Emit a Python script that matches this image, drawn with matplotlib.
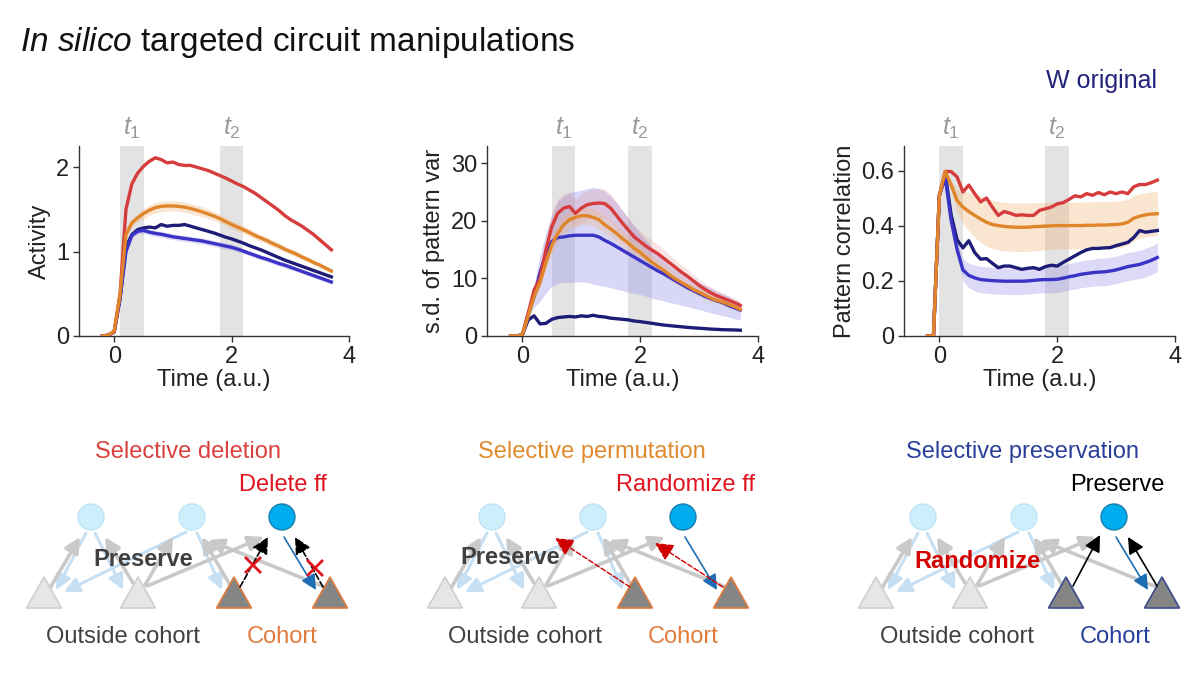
import numpy as np
import matplotlib.pyplot as plt
from matplotlib.patches import Circle, Polygon
from matplotlib.transforms import blended_transform_factory

plt.rcParams['font.family'] = ['Liberation Sans', 'DejaVu Sans']
plt.rcParams['mathtext.fontset'] = 'custom'
plt.rcParams['mathtext.it'] = 'Liberation Sans:italic'
plt.rcParams['mathtext.rm'] = 'Liberation Sans'

# ---- data ----
time = [-0.2, -0.1, 0.0, 0.1, 0.2, 0.3, 0.4, 0.5, 0.6, 0.7,
        0.8, 0.9, 1.0, 1.1, 1.2, 1.3, 1.4, 1.5, 1.6, 1.7,
        1.8, 1.9, 2.0, 2.1, 2.2, 2.3, 2.4, 2.5, 2.6, 2.7,
        2.8, 2.9, 3.0, 3.1, 3.2, 3.3, 3.4, 3.5, 3.6, 3.7]

# activity
act_red = [0, 0.01, 0.05, 0.50, 1.50, 1.80, 1.93, 2.01, 2.07, 2.11,
           2.09, 2.05, 2.06, 2.03, 2.02, 2.02, 2.00, 1.98, 1.96, 1.93,
           1.90, 1.87, 1.835, 1.80, 1.77, 1.73, 1.69, 1.64, 1.59, 1.54,
           1.49, 1.43, 1.38, 1.34, 1.30, 1.25, 1.20, 1.14, 1.08, 1.02]
act_orange = [0, 0.01, 0.06, 0.50, 1.20, 1.34, 1.40, 1.45, 1.49, 1.52,
              1.535, 1.54, 1.54, 1.535, 1.525, 1.51, 1.49, 1.47, 1.445, 1.42,
              1.39, 1.355, 1.32, 1.29, 1.26, 1.225, 1.19, 1.16, 1.13, 1.095,
              1.065, 1.03, 1.00, 0.97, 0.935, 0.905, 0.87, 0.84, 0.805, 0.77]
act_navy = [0, 0.01, 0.05, 0.45, 1.05, 1.20, 1.26, 1.28, 1.29, 1.28,
            1.32, 1.30, 1.31, 1.31, 1.32, 1.30, 1.28, 1.26, 1.24, 1.22,
            1.195, 1.17, 1.15, 1.125, 1.10, 1.07, 1.045, 1.02, 0.99, 0.96,
            0.93, 0.90, 0.875, 0.85, 0.825, 0.80, 0.775, 0.75, 0.725, 0.70]
act_blue = [0, 0.01, 0.05, 0.45, 1.00, 1.19, 1.24, 1.25, 1.23, 1.215,
            1.205, 1.19, 1.175, 1.165, 1.155, 1.145, 1.135, 1.125, 1.11, 1.095,
            1.08, 1.065, 1.05, 1.03, 1.005, 0.98, 0.955, 0.93, 0.91, 0.885,
            0.86, 0.84, 0.815, 0.79, 0.765, 0.74, 0.715, 0.69, 0.665, 0.64]
act_orange_err = [0, 0, 0, 0.02, 0.03, 0.04, 0.05, 0.06, 0.06, 0.06,
                  0.06, 0.06, 0.06, 0.06, 0.06, 0.06, 0.06, 0.06, 0.055, 0.055,
                  0.05, 0.05, 0.05, 0.05, 0.045, 0.045, 0.045, 0.04, 0.04, 0.04,
                  0.04, 0.035, 0.035, 0.035, 0.035, 0.03, 0.03, 0.03, 0.03, 0.03]
act_blue_err = [0, 0, 0, 0.02, 0.03, 0.03, 0.03, 0.035, 0.035, 0.035,
                0.035, 0.035, 0.035, 0.035, 0.035, 0.035, 0.035, 0.035, 0.035, 0.035,
                0.035, 0.035, 0.035, 0.035, 0.03, 0.03, 0.03, 0.03, 0.03, 0.03,
                0.03, 0.03, 0.03, 0.025, 0.025, 0.025, 0.025, 0.025, 0.025, 0.025]

# s.d. of pattern var
sd_red = [0, 0, 0.2, 4.0, 8.0, 10.0, 15.0, 19.0, 21.3, 22.2,
          22.5, 21.3, 22.2, 22.8, 23.0, 23.1, 23.0, 22.2, 20.9, 19.6,
          18.4, 17.2, 16.4, 15.6, 14.9, 14.3, 13.5, 12.7, 11.9, 11.1,
          10.4, 9.6, 8.8, 8.1, 7.5, 7.0, 6.6, 6.2, 5.8, 5.3]
sd_orange = [0, 0, 0.2, 3.5, 6.9, 9.3, 12.8, 15.8, 17.8, 19.3,
             20.2, 20.6, 20.9, 20.9, 20.6, 20.2, 19.3, 18.6, 17.8, 16.9,
             16.1, 15.2, 14.5, 13.6, 12.8, 12.1, 11.4, 10.6, 9.9, 9.3,
             8.7, 8.1, 7.6, 7.1, 6.6, 6.2, 5.9, 5.5, 5.1, 4.6]
sd_navy = [0, 0, 0.2, 2.8, 3.5, 2.1, 2.2, 2.9, 3.2, 3.3,
           3.4, 3.3, 3.5, 3.4, 3.6, 3.4, 3.3, 3.1, 3.0, 2.9,
           2.8, 2.6, 2.5, 2.35, 2.2, 2.05, 1.9, 1.8, 1.7, 1.6,
           1.5, 1.42, 1.35, 1.28, 1.2, 1.15, 1.1, 1.07, 1.05, 1.0]
sd_blue = [0, 0, 0.2, 3.8, 6.9, 11.0, 14.3, 16.4, 17.1, 17.2,
           17.4, 17.5, 17.5, 17.5, 17.5, 17.2, 16.6, 16.1, 15.5, 14.9,
           14.3, 13.7, 13.1, 12.5, 11.9, 11.3, 10.8, 10.2, 9.6, 9.0,
           8.4, 7.9, 7.4, 6.9, 6.5, 6.1, 5.8, 5.3, 4.9, 4.5]
sd_red_err = [0, 0, 0, 0.5, 1.0, 1.5, 2.0, 2.5, 2.5, 2.5,
              2.5, 2.5, 2.5, 2.5, 2.5, 2.5, 2.5, 2.4, 2.3, 2.2,
              2.1, 2.0, 1.9, 1.8, 1.7, 1.6, 1.5, 1.4, 1.3, 1.2,
              1.2, 1.1, 1.1, 1.0, 1.0, 0.9, 0.9, 0.8, 0.8, 0.8]
sd_orange_err = [0, 0, 0, 0.3, 0.6, 0.9, 1.2, 1.5, 1.5, 1.5,
                 1.5, 1.5, 1.5, 1.5, 1.5, 1.5, 1.5, 1.4, 1.4, 1.3,
                 1.3, 1.2, 1.2, 1.1, 1.1, 1.0, 1.0, 0.9, 0.9, 0.8,
                 0.8, 0.8, 0.7, 0.7, 0.7, 0.6, 0.6, 0.6, 0.5, 0.5]
sd_blue_lo = [0, 0, 0.2, 3.0, 5.0, 6.0, 7.5, 8.7, 9.1, 9.3,
              9.3, 9.4, 9.4, 9.3, 9.0, 8.8, 8.6, 8.4, 8.1, 7.9,
              7.6, 7.4, 7.2, 6.9, 6.6, 6.3, 6.1, 5.8, 5.6, 5.3,
              5.1, 4.8, 4.6, 4.3, 4.0, 3.8, 3.5, 3.3, 3.0, 2.8]
sd_blue_hi = [0, 0, 0.2, 4.5, 9.0, 14.0, 18.0, 21.0, 23.4, 24.3,
              24.9, 25.1, 25.3, 25.6, 25.8, 25.6, 25.2, 24.3, 23.1, 21.8,
              20.5, 19.1, 17.8, 16.6, 15.5, 14.3, 13.2, 12.2, 11.5, 10.8,
              10.1, 9.7, 9.3, 8.8, 8.3, 7.8, 7.4, 6.9, 6.3, 5.8]

# pattern correlation
cor_red = [0, 0, 0.51, 0.598, 0.597, 0.578, 0.523, 0.548, 0.517, 0.487,
           0.501, 0.468, 0.438, 0.452, 0.446, 0.438, 0.440, 0.438, 0.438, 0.456,
           0.462, 0.468, 0.480, 0.484, 0.496, 0.509, 0.505, 0.517, 0.511, 0.521,
           0.513, 0.523, 0.517, 0.523, 0.517, 0.542, 0.550, 0.550, 0.557, 0.566]
cor_orange = [0, 0, 0.51, 0.598, 0.548, 0.493, 0.468, 0.452, 0.438, 0.425,
              0.413, 0.405, 0.401, 0.398, 0.396, 0.395, 0.395, 0.395, 0.397, 0.398,
              0.399, 0.400, 0.401, 0.401, 0.401, 0.401, 0.401, 0.402, 0.402, 0.403,
              0.403, 0.404, 0.405, 0.407, 0.413, 0.428, 0.435, 0.440, 0.443, 0.444]
cor_navy = [0, 0, 0.51, 0.59, 0.44, 0.35, 0.32, 0.346, 0.303, 0.279,
            0.281, 0.264, 0.248, 0.254, 0.254, 0.248, 0.242, 0.246, 0.248, 0.242,
            0.252, 0.257, 0.254, 0.267, 0.279, 0.291, 0.303, 0.313, 0.318, 0.318,
            0.320, 0.321, 0.328, 0.334, 0.340, 0.358, 0.383, 0.377, 0.380, 0.383]
cor_blue = [0, 0, 0.51, 0.575, 0.42, 0.315, 0.24, 0.22, 0.211, 0.205,
            0.203, 0.201, 0.200, 0.199, 0.199, 0.199, 0.199, 0.200, 0.202, 0.204,
            0.205, 0.205, 0.206, 0.210, 0.215, 0.219, 0.224, 0.227, 0.230, 0.232,
            0.233, 0.236, 0.240, 0.246, 0.252, 0.256, 0.260, 0.267, 0.275, 0.285]
cor_orange_err = [0, 0, 0, 0.005, 0.02, 0.04, 0.06, 0.07, 0.08, 0.085,
                  0.087, 0.088, 0.088, 0.088, 0.088, 0.088, 0.088, 0.088, 0.087, 0.087,
                  0.086, 0.086, 0.085, 0.085, 0.085, 0.085, 0.085, 0.085, 0.085, 0.085,
                  0.085, 0.085, 0.085, 0.085, 0.083, 0.082, 0.081, 0.080, 0.080, 0.080]
cor_blue_err = [0, 0, 0, 0.005, 0.02, 0.03, 0.04, 0.045, 0.047, 0.048,
                0.048, 0.048, 0.048, 0.048, 0.048, 0.048, 0.048, 0.048, 0.048, 0.048,
                0.048, 0.048, 0.048, 0.048, 0.048, 0.049, 0.049, 0.049, 0.049, 0.050,
                0.050, 0.050, 0.050, 0.050, 0.051, 0.051, 0.051, 0.052, 0.052, 0.052]

# ---- style ----
RED = '#d63c3c'
ORANGE = '#e0852b'
NAVY = '#1d1d78'
BLUE = '#3a33c6'
AXC = '#333333'
LBL = 17

t = np.array(time)

fig = plt.figure(figsize=(12, 6.75), dpi=100)


def band(ax, lo, hi, color, alpha):
    ax.fill_between(t, lo, hi, color=color, alpha=alpha, lw=0, zorder=1)


def style(ax, ylim, yticks, yticklabels, ylabel, t1, t2):
    ax.set_xlim(-0.6, 4)
    ax.set_ylim(*ylim)
    ax.set_xticks([0, 2, 4])
    ax.set_yticks(yticks)
    ax.set_yticklabels(yticklabels)
    for s in ['top', 'right']:
        ax.spines[s].set_visible(False)
    for s in ['left', 'bottom']:
        ax.spines[s].set_color(AXC)
        ax.spines[s].set_linewidth(1.0)
    ax.tick_params(colors=AXC, labelcolor='#222222', labelsize=LBL, length=4, width=1, pad=3)
    ax.set_xlabel('Time (a.u.)', fontsize=LBL, color='#222222', labelpad=1)
    ax.set_ylabel(ylabel, fontsize=LBL, color='#222222', labelpad=4)
    trans = blended_transform_factory(ax.transData, ax.transAxes)
    for (a, b), lab in [(t1, r'$\mathit{t_{1}}$'), (t2, r'$\mathit{t_{2}}$')]:
        ax.axvspan(a, b, color='#e3e3e3', lw=0, zorder=0)
        ax.text((a + b) / 2, 1.09, lab, transform=trans, ha='center', va='center',
                color='#9a9a9a', fontsize=18, clip_on=False)


lw = 2.4
bottom = 1 - 336 / 675
height = 190 / 675

# activity
ax1 = fig.add_axes([79 / 1200, bottom, 270 / 1200, height])
a_o, a_oe = np.array(act_orange), np.array(act_orange_err)
a_b, a_be = np.array(act_blue), np.array(act_blue_err)
band(ax1, a_o - a_oe, a_o + a_oe, '#f0b57a', 0.35)
band(ax1, a_b - a_be, a_b + a_be, '#8c86e6', 0.3)
ax1.plot(t, act_navy, color=NAVY, lw=lw, zorder=3)
ax1.plot(t, act_blue, color=BLUE, lw=lw, zorder=3)
ax1.plot(t, act_red, color=RED, lw=lw, zorder=3)
ax1.plot(t, act_orange, color=ORANGE, lw=lw, zorder=4)
style(ax1, (0, 2.25), [0, 1, 2], ['0', '1', '2'], 'Activity', (0.1, 0.5), (1.8, 2.2))

# s.d. of pattern var
ax2 = fig.add_axes([487 / 1200, bottom, 271 / 1200, height])
s_r, s_re = np.array(sd_red), np.array(sd_red_err)
s_o, s_oe = np.array(sd_orange), np.array(sd_orange_err)
band(ax2, sd_blue_lo, sd_blue_hi, '#9b96ea', 0.38)
band(ax2, s_r - s_re, s_r + s_re, '#e07a7a', 0.2)
band(ax2, s_o - s_oe, s_o + s_oe, '#f0b57a', 0.3)
ax2.plot(t, sd_navy, color=NAVY, lw=lw, zorder=3)
ax2.plot(t, sd_blue, color=BLUE, lw=lw, zorder=3)
ax2.plot(t, sd_red, color=RED, lw=lw, zorder=3)
ax2.plot(t, sd_orange, color=ORANGE, lw=lw, zorder=4)
style(ax2, (0, 33), [0, 10, 20, 30], ['0', '10', '20', '30'], 's.d. of pattern var',
      (0.5, 0.9), (1.8, 2.2))

# pattern correlation
ax3 = fig.add_axes([904 / 1200, bottom, 271 / 1200, height])
c_o, c_oe = np.array(cor_orange), np.array(cor_orange_err)
c_b, c_be = np.array(cor_blue), np.array(cor_blue_err)
band(ax3, c_o - c_oe, c_o + c_oe, '#f0b57a', 0.35)
band(ax3, c_b - c_be, c_b + c_be, '#8c86e6', 0.3)
ax3.plot(t, cor_navy, color=NAVY, lw=lw, zorder=3)
ax3.plot(t, cor_blue, color=BLUE, lw=lw, zorder=3)
ax3.plot(t, cor_red, color=RED, lw=lw, zorder=3)
ax3.plot(t, cor_orange, color=ORANGE, lw=lw, zorder=4)
style(ax3, (0, 0.69), [0, 0.2, 0.4, 0.6], ['0', '0.2', '0.4', '0.6'],
      'Pattern correlation', (0.0, 0.4), (1.8, 2.2))

fig.text(20 / 1200, 1 - 43 / 675, r'$\mathit{In\ silico}$ targeted circuit manipulations',
         fontsize=24, va='center', ha='left', color='#111111')
fig.text(1157 / 1200, 1 - 81 / 675, 'W original', fontsize=18, color='#22227a',
         ha='right', va='center')

# ---- circuit schematics (overlay in pixel units) ----
sk = fig.add_axes([0, 0, 1, 1], zorder=-1)
sk.set_xlim(0, 1200)
sk.set_ylim(675, 0)
sk.set_axis_off()

circle_x = [91, 192, 282]
tri_x = [44, 138, 234, 330]
gray_links = [((50, 588), (80, 537)), ((133, 583), (105, 537)), ((145, 585), (173, 537)),
              ((147, 586), (264, 537)), ((230, 585), (202, 537)), ((327, 588), (208, 540))]
blue_links = [((86, 533), (56, 590)), ((186, 532), (64, 592)),
              ((95, 533), (123, 590)), ((197, 533), (222, 590))]


def arrow(p0, p1, dx, color, lw, ms=18, ls='-', z=2):
    sk.annotate('', xy=(p1[0] + dx, p1[1]), xytext=(p0[0] + dx, p0[1]),
                arrowprops=dict(arrowstyle='-|>', color=color, lw=lw, mutation_scale=ms,
                                shrinkA=0, shrinkB=0, linestyle=ls), zorder=z)


def panel(dx, cohort_edge):
    for p0, p1 in blue_links:
        arrow(p0, p1, dx, '#c6dff3', 2.2, ms=23)
    for p0, p1 in gray_links:
        arrow(p0, p1, dx, '#c9c9c9', 2.6, ms=23)
    for i, x in enumerate(tri_x):
        cohort = i >= 2
        sk.add_patch(Polygon([(x + dx - 17.5, 608), (x + dx + 17.5, 608), (x + dx, 577)],
                             closed=True, fc='#858585' if cohort else '#e6e6e6',
                             ec=cohort_edge if cohort else '#cfcfcf', lw=1.2, zorder=3))
    for i, x in enumerate(circle_x):
        on = i == 2
        sk.add_patch(Circle((x + dx, 517), 13, fc='#00aeef' if on else '#cdeefb',
                            ec='#1a7fb0' if on else '#bfe4f6', lw=1, zorder=3))
    arrow((284, 537), (316, 590), dx, '#1f6db5', 1.2, ms=23, z=4)


panel(0, '#e07b3c')
panel(401, '#e07b3c')
panel(832, '#3b4a8a')

# deletion: dashed ff with crosses
arrow((240, 587), (268, 537), 0, 'black', 1.2, ms=25, ls='--', z=4)
arrow((323, 587), (295, 537), 0, 'black', 1.2, ms=25, ls='--', z=4)
for cx, cy in [(253, 565), (315, 568)]:
    sk.plot([cx - 7, cx + 7], [cy - 7, cy + 7], color='#e0141e', lw=2, zorder=5)
    sk.plot([cx - 7, cx + 7], [cy + 7, cy - 7], color='#e0141e', lw=2, zorder=5)
# permutation: randomized ff
arrow((229, 587), (154, 538), 401, '#d00000', 1.0, ms=28, ls='--', z=4)
arrow((322, 587), (254, 543), 401, '#d00000', 1.0, ms=28, ls='--', z=4)
# preservation: kept ff
arrow((241, 586), (268, 535), 832, 'black', 1.2, ms=25, z=4)
arrow((325, 586), (296, 537), 832, 'black', 1.2, ms=25, z=4)

fs = 17
sk.text(188, 452, 'Selective deletion', color='#d9413f', fontsize=fs, ha='center', va='center')
sk.text(592, 452, 'Selective permutation', color='#e08a2e', fontsize=fs, ha='center', va='center')
sk.text(1023, 452, 'Selective preservation', color='#2a3f9a', fontsize=fs, ha='center', va='center')
sk.text(283, 485, 'Delete ff', color='#e0141e', fontsize=fs, ha='center', va='center')
sk.text(685, 485, 'Randomize ff', color='#e0141e', fontsize=fs, ha='center', va='center')
sk.text(1117, 485, 'Preserve', color='black', fontsize=fs, ha='center', va='center')
sk.text(143, 560, 'Preserve', color='#404040', fontsize=fs, weight='bold', ha='center',
        va='center', zorder=6)
sk.text(510, 558, 'Preserve', color='#404040', fontsize=fs, weight='bold', ha='center',
        va='center', zorder=6)
sk.text(977, 562, 'Randomize', color='#d40000', fontsize=fs, weight='bold', ha='center',
        va='center', zorder=6)
for x in [123, 525, 957]:
    sk.text(x, 637, 'Outside cohort', color='#404040', fontsize=fs, ha='center', va='center')
for x, c in [(282, '#e07b3c'), (683, '#e07b3c'), (1115, '#2a3f9a')]:
    sk.text(x, 637, 'Cohort', color=c, fontsize=fs, ha='center', va='center')

fig.savefig('out.png', dpi=100)
